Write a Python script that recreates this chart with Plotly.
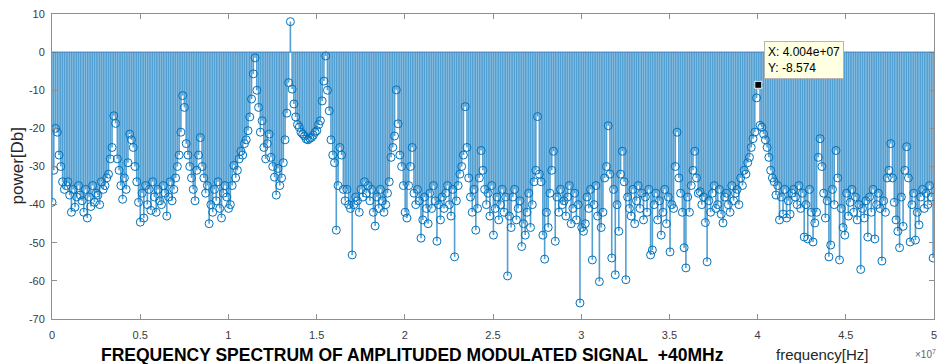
import numpy as np
import plotly.graph_objects as go

# FFT bin spacing of the spectrum (Hz)
BIN_HZ = 1.001e5

# Power of each frequency bin, in dB
power_db = [
    -39.4, -31, -20, -21, -27, -30, -34, -36, -35, -34, -37.5, -42, -36, -40.7, -38, -35, -37.5, -39, -42, -36,
    -43.5, -38, -40.5, -35, -39.4, -37, -37.5, -40, -34, -36, -35, -33, -32, -28, -25, -16.7, -18.7, -28, -31, -35,
    -38.6, -33, -36, -29, -21.5, -23, -25, -30, -34, -39.4, -44.6, -37, -43.5, -35, -40, -36, -41.5, -34, -38, -42,
    -36, -39, -40, -35, -37, -43, -38, -34, -39, -36, -33, -30, -27, -21, -11.4, -14.5, -24, -27, -30, -33,
    -36, -39, -31, -27, -22.4, -30, -33, -37, -35, -45, -40, -42, -36, -39, -34, -41, -43.5, -37, -35, -38,
    -41, -40, -35, -29.7, -33, -31, -28, -26, -27, -24, -23, -20.6, -17, -12.3, -5.7, -1.5, -10, -14.5, -21, -18,
    -25, -28, -24, -21.5, -27.6, -30, -32.8, -37.5, -30.5, -35, -33, -29, -23, -16, -8, 8, -9.7, -13.6, -17, -19,
    -19.7, -21, -21.5, -22, -22.8, -23, -22.6, -22.4, -21.8, -21, -20.6, -19, -18, -12.8, -7.6, -1, -10, -15.4, -23, -27,
    -29, -46.7, -35, -25, -27, -36, -39, -36, -40, -41, -53.2, -40, -38, -39, -42, -36, -38, -34, -37, -35,
    -39, -36, -42, -45.6, -38, -41, -36, -39, -42, -40, -37, -34, -27.6, -25, -22, -9.9, -18.8, -27, -30, -35,
    -42, -43.5, -35, -30, -25, -37, -40, -36, -39, -48.8, -44, -38, -41, -45, -37, -41, -35, -39, -49.6, -40,
    -44, -38, -41, -37, -35, -40, -43, -36, -53.7, -39, -35, -32, -30, -27, -14.3, -25, -33, -38, -42, -36,
    -46.7, -41, -33, -25.8, -31, -36, -40, -37, -43, -35, -48, -41, -38, -44, -40, -36, -42, -38, -58.7, -43,
    -46, -38, -36, -44, -41, -39, -51, -45, -48, -42, -37, -46, -40, -34, -31, -16.9, -32, -34, -48, -54.3,
    -42, -46, -37, -31, -26, -49.6, -38, -42, -36, -40, -39, -43, -38, -35, -45, -41, -37, -44, -40, -65.8,
    -46, -47, -45, -38, -41, -36, -54.5, -40, -35, -43, -60.2, -46, -42, -33, -30, -19.3, -32, -54, -36, -58.4,
    -40, -47, -32, -26, -34, -59.7, -38, -41, -43, -36, -45, -39, -35, -41, -37, -44, -38, -42, -36, -53.2,
    -51.9, -40, -37, -44, -39, -48, -42, -36, -45, -38, -52.4, -40, -41, -30, -21, -33, -37, -42, -51.3, -56.6,
    -38, -42, -35, -31, -26, -33, -37, -36.6, -40, -38, -44.7, -55, -39, -42, -37, -35, -41, -40, -36, -42.5,
    -44.8, -38, -37, -40, -42, -35, -39, -37, -36, -40, -33, -35, -31, -32, -29, -27.6, -25, -22.7, -21, -12,
    -8.574, -19.2, -19.7, -21.5, -23, -25, -27.6, -31, -33, -34, -37.5, -35, -44, -38, -42.5, -36, -43.5, -39, -42.5, -37,
    -36, -38, -40, -35, -41, -37, -48.5, -40, -49, -36, -42, -49.8, -44.8, -42, -27.6, -22.7, -30, -37, -43.5, -39,
    -53.7, -50.6, -36, -40, -25.8, -33, -54.5, -41, -46, -48, -37, -43, -39.4, -36, -42, -38, -44, -40, -57, -41,
    -43.5, -39, -48.5, -38, -42, -36, -49, -40, -37, -41, -54.8, -39, -42, -33, -31, -24, -33, -39.4, -44, -47,
    -51.3, -38, -45.7, -31, -24.8, -33, -49.8, -40, -37, -49.3, -42, -45.3, -38, -36, -41, -37, -40, -35, -38, -54,
]

x_tick_vals = [0, 0.5e7, 1e7, 1.5e7, 2e7, 2.5e7, 3e7, 3.5e7, 4e7, 4.5e7, 5e7]
x_tick_text = ["0", "0.5", "1", "1.5", "2", "2.5", "3", "3.5", "4", "4.5", "5"]
y_tick_vals = [-70, -60, -50, -40, -30, -20, -10, 0, 10]
y_tick_text = ["-70", "-60", "-50", "-40", "-30", "-20", "-10", "0", "10"]

# bin marked with a data tip (the 40 MHz carrier)
TIP_INDEX = 400

STEM_BLUE = "#0072BD"
STEM_FILL = "rgba(0,114,189,0.68)"
AXIS_GRAY = "#8f8f8f"
TEXT_DARK = "#262626"
FONT = "Liberation Sans, Arial, sans-serif"

freq = np.arange(len(power_db)) * BIN_HZ

# stems from the zero baseline to each value, separated by gaps
stem_x, stem_y = [], []
for f, p in zip(freq, power_db):
    stem_x += [f, f, None]
    stem_y += [0, p, None]

fig = go.Figure()
fig.add_trace(go.Scatter(
    x=stem_x, y=stem_y, mode="lines",
    line=dict(color=STEM_FILL, width=1.6),
    hoverinfo="skip", showlegend=False,
))
# stem baseline at 0 dB
fig.add_shape(type="line", xref="x", yref="y", x0=0, x1=5e7, y0=0, y1=0,
              line=dict(color="#3579b8", width=1))
fig.add_trace(go.Scatter(
    x=freq, y=power_db, mode="markers",
    marker=dict(symbol="circle-open", size=8, color=STEM_BLUE, line=dict(width=1, color=STEM_BLUE)),
    showlegend=False,
))

tip_x = float(freq[TIP_INDEX])
tip_y = power_db[TIP_INDEX]
fig.add_trace(go.Scatter(
    x=[tip_x], y=[tip_y], mode="markers",
    marker=dict(symbol="square", size=7, color="black", line=dict(width=1, color="white")),
    showlegend=False,
))

fig.add_annotation(
    x=tip_x, y=tip_y, xref="x", yref="y",
    text=f"X: {tip_x:.4g}<br>Y: {tip_y:.4g}",
    showarrow=False, xanchor="left", yanchor="bottom", xshift=6, yshift=6,
    align="left", bgcolor="#ffffe1", bordercolor="#b4b4b4", borderwidth=1, borderpad=3,
    font=dict(family=FONT, size=12, color="black"),
)

# axis captions
fig.add_annotation(
    x=0, y=0.5, xref="paper", yref="paper", xshift=-35,
    xanchor="center", yanchor="middle",
    text="power[Db]", textangle=-90, showarrow=False,
    font=dict(family=FONT, size=17, color=TEXT_DARK),
)
fig.add_annotation(
    x=(825 - 52) / 885, y=0, xref="paper", yref="paper", yshift=-35,
    xanchor="center", yanchor="middle",
    text="frequency[Hz]", showarrow=False,
    font=dict(family=FONT, size=15, color=TEXT_DARK),
)
fig.add_annotation(
    x=1, y=0, xref="paper", yref="paper", yshift=-35, xanchor="right", xshift=4,
    yanchor="middle",
    text="×10<sup>7</sup>", showarrow=False,
    font=dict(family=FONT, size=10, color="#666666"),
)
fig.add_annotation(
    x=(99 - 52) / 885, y=0, xref="paper", yref="paper", yshift=-36,
    xanchor="left", yanchor="middle",
    text="<b>FREQUENCY SPECTRUM OF AMPLITUDED MODULATED SIGNAL\u00a0 +40MHz</b>",
    showarrow=False,
    font=dict(family=FONT, size=17.5, color="black"),
)

axis_common = dict(
    showgrid=False, zeroline=False, showline=True, linecolor=AXIS_GRAY, linewidth=1,
    mirror="ticks", ticks="inside", ticklen=5, tickcolor=AXIS_GRAY, tickwidth=1,
    tickfont=dict(family=FONT, size=11, color="#3a3a3a"),
)
fig.update_xaxes(range=[0, 5e7], tickvals=x_tick_vals, ticktext=x_tick_text,
                 ticklabelstandoff=6, **axis_common)
fig.update_yaxes(range=[-70, 10], tickvals=y_tick_vals, ticktext=y_tick_text,
                 ticklabelstandoff=4, **axis_common)

fig.update_layout(
    width=945, height=364,
    margin=dict(l=52, r=8, t=13, b=45),
    plot_bgcolor="white", paper_bgcolor="white",
    font=dict(family=FONT),
)

fig.write_html("out.html")
